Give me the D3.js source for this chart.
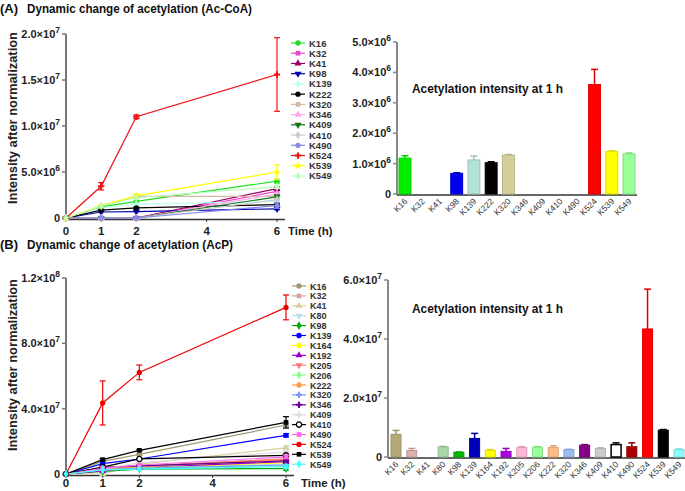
<!DOCTYPE html>
<html><head><meta charset="utf-8">
<script src="https://cdn.jsdelivr.net/npm/d3@7"></script>
<style>
body{margin:0;background:#fff;}
text{font-family:"Liberation Sans",Arial,sans-serif;}
</style></head>
<body><svg id="c" width="685" height="491"></svg>
<script>
// ---------- DATA ----------
const timePoints = [0, 1, 2, 6];
const timeTicks = [0, 1, 2, 4, 6];

// Panel A (Ac-CoA) line series
const namesA = ["K16","K32","K41","K98","K139","K222","K320","K346","K409","K410","K490","K524","K539","K549"];
const colorsA = ["#22dd22","#ee44cc","#990066","#0000aa","#bbffee","#000000","#d2b9a0","#ffaaee","#117711","#cccccc","#8888ee","#ee1111","#ffff00","#bbffbb"];
const symbolsA = ["circle","square","triangle","tdown","diamond","circle","square","triangle","tdown","diamond","circle","cross","star","diamond"];
const valuesA = [
  [0, 1.2e6, 1.8e6, 4.0e6],
  [0, 0, 0, 2.9e6],
  [0, 0, 0, 3.2e6],
  [0, 0.65e6, 0.7e6, 1.0e6],
  [0, 1.1e6, 1.5e6, 1.8e6],
  [0, 0.85e6, 1.1e6, 1.45e6],
  [0, 1.3e6, 2.35e6, 2.35e6],
  [0, 0, 0, 2.6e6],
  [0, 0, 0, 2.3e6],
  [0, 0, 0, 2.0e6],
  [0, 0, 0, 1.35e6],
  [0, 3.45e6, 11.0e6, 15.6e6],
  [0, 1.35e6, 2.4e6, 5.0e6],
  [0, 1.3e6, 2.2e6, 3.4e6]
];
const errorsA = [
  [0,0.1e6,0,0.2e6],[0,0,0,0.2e6],[0,0,0,0.2e6],[0,0,0,0.1e6],[0,0.1e6,0,0.1e6],
  [0,0.1e6,0.1e6,0.1e6],[0,0,0,0],[0,0,0,0.1e6],[0,0,0,0.2e6],[0,0,0,0.1e6],[0,0,0,0.3e6],
  [0,0.4e6,0.2e6,4.0e6],[0,0,0.2e6,0.8e6],[0,0,0,0.2e6]
];

// Panel A bars (1 h)
const barNamesA = namesA;
const barValuesA = [1.18e6, 0, 0, 0.68e6, 1.12e6, 1.03e6, 1.28e6, 0, 0, 0, 0, 3.6e6, 1.4e6, 1.32e6];
const barErrorsA = [0.08e6, 0, 0, 0.02e6, 0.13e6, 0.03e6, 0.02e6, 0, 0, 0, 0, 0.5e6, 0.02e6, 0.03e6];
const barColorsA = ["#00ee00","#ff66cc","#990066","#0000ee","#b2e2d6","#000000","#d4d09c","#ffaaee","#117711","#cccccc","#8888ee","#ff0000","#ffff00","#99ff99"];
const yTicksA = [0, 5e6, 1e7, 1.5e7, 2e7];
const yTicksBarA = [0, 1e6, 2e6, 3e6, 4e6, 5e6];

// Panel B (AcP) line series
const namesB = ["K16","K32","K41","K80","K98","K139","K164","K192","K205","K206","K222","K320","K346","K409","K410","K490","K524","K539","K549"];
const colorsB = ["#a09870","#d8a0a0","#d8d0a0","#bbddee","#00aa00","#0000ff","#ffff00","#9900cc","#ff7777","#88ff88","#ff9944","#7799ff","#660099","#dddddd","#000000","#ff66ee","#ee0000","#000000","#44ffff"];
const symbolsB = ["circle","square","triangle","tdown","diamond","circle","circle","triangle","tdown","diamond","circle","cross","cross","cross","ocircle","square","circle","square","diamond"];
const valuesB = [
  [0, 0.77e7, 1.2e7, 3.0e7],
  [0, 0.22e7, 0.45e7, 0.95e7],
  [0, 0, 0.6e7, 1.6e7],
  [0, 0.34e7, 0.4e7, 0.6e7],
  [0, 0.16e7, 0.3e7, 0.33e7],
  [0, 0.63e7, 0.92e7, 2.37e7],
  [0, 0.23e7, 0.35e7, 0.7e7],
  [0, 0.19e7, 0.4e7, 0.75e7],
  [0, 0.32e7, 0.5e7, 0.9e7],
  [0, 0.33e7, 0.4e7, 0.5e7],
  [0, 0.32e7, 0.45e7, 0.85e7],
  [0, 0.25e7, 0.35e7, 0.55e7],
  [0, 0.4e7, 0.5e7, 0.8e7],
  [0, 0.29e7, 0.7e7, 1.35e7],
  [0, 0.42e7, 0.92e7, 1.14e7],
  [0, 0.35e7, 0.55e7, 1.05e7],
  [0, 4.35e7, 6.22e7, 10.2e7],
  [0, 0.88e7, 1.45e7, 3.16e7],
  [0, 0.25e7, 0.3e7, 0.45e7]
];
const errorsB = [
  [0,0.1e7,0.05e7,0.1e7],[0,0.05e7,0,0.1e7],[0,0,0,0.1e7],[0,0,0,0],[0,0,0,0.1e7],[0,0.1e7,0,0.1e7],
  [0,0,0,0],[0,0.05e7,0,0.1e7],[0,0,0,0],[0,0,0,0],[0,0.05e7,0,0],[0,0,0,0],[0,0,0,0.1e7],
  [0,0,0,0.1e7],[0,0.05e7,0,0.05e7],[0,0.1e7,0,0.1e7],[0,1.35e7,0.45e7,0.76e7],[0,0.05e7,0.05e7,0.35e7],[0,0,0,0.1e7]
];

// Panel B bars (1 h)
const barNamesB = namesB;
const barValuesB = [0.77e7, 0.22e7, 0, 0.34e7, 0.16e7, 0.63e7, 0.23e7, 0.19e7, 0.32e7, 0.33e7, 0.32e7, 0.25e7, 0.4e7, 0.29e7, 0.42e7, 0.35e7, 4.34e7, 0.91e7, 0.25e7];
const barErrorsB = [0.13e7, 0.07e7, 0, 0.02e7, 0.01e7, 0.17e7, 0.02e7, 0.1e7, 0.03e7, 0.02e7, 0.06e7, 0.01e7, 0.02e7, 0.02e7, 0.06e7, 0.13e7, 1.35e7, 0.02e7, 0.02e7];
const barColorsB = ["#b5a97a","#ddb0b0","#d8d0a0","#a8d8a8","#00bb00","#0000bb","#ffff00","#aa00dd","#ffb8d8","#99ff99","#ffbb88","#99bbee","#880088","#cccccc","#ffffff","#aa0000","#ff0000","#000000","#88ffff"];
const yTicksB = [0, 4e7, 8e7, 1.2e8];
const yTicksBarB = [0, 2e7, 4e7, 6e7];

// ---------- DRAW ----------
const svg = d3.select("#c");

function symGen(name, size){
  const m = {circle:d3.symbolCircle, ocircle:d3.symbolCircle, square:d3.symbolSquare, triangle:d3.symbolTriangle,
             tdown:d3.symbolTriangle, diamond:d3.symbolDiamond, cross:d3.symbolCross, star:d3.symbolStar};
  return d3.symbol().type(m[name]).size(size)();
}

function sciLabel(sel, v){
  sel.text(null);
  if (v === 0){ sel.text("0"); return; }
  const e = Math.floor(Math.log10(v) + 1e-9);
  const m = v / Math.pow(10, e);
  sel.append("tspan").text(m.toFixed(1) + "\u00d710");
  sel.append("tspan").attr("dy", -5).attr("font-size", "8.5px").text(e);
}

function yAxis(g, y, ticks, xPos, color){
  g.append("line").attr("x1", xPos).attr("x2", xPos).attr("y1", y(0)+1).attr("y2", y(ticks[ticks.length-1]))
    .attr("stroke", color).attr("stroke-width", 2);
  ticks.forEach(t=>{
    g.append("line").attr("x1", xPos-4).attr("x2", xPos).attr("y1", y(t)).attr("y2", y(t)).attr("stroke", color).attr("stroke-width", 1.5);
    const tx = g.append("text").attr("x", xPos-6).attr("y", y(t)+4).attr("text-anchor","end")
      .attr("font-size","11px").attr("font-weight","bold").attr("fill","#222");
    sciLabel(tx, t);
  });
}

function linePanel(opt){
  const g = svg.append("g");
  const x = d3.scaleLinear().domain([0,6]).range(opt.xr);
  const y = d3.scaleLinear().domain([0,opt.ymax]).range(opt.yr);
  yAxis(g, y, opt.yticks, opt.xr[0], "#777");
  g.append("line").attr("x1", opt.xr[0]).attr("x2", opt.xr[1]+8).attr("y1", y(0)+1.5).attr("y2", y(0)+1.5)
    .attr("stroke", "#333").attr("stroke-width", 1.5);
  timeTicks.forEach(t=>{
    g.append("line").attr("x1", x(t)).attr("x2", x(t)).attr("y1", y(0)+1.5).attr("y2", y(0)+4).attr("stroke","#333");
    g.append("text").attr("x", x(t)).attr("y", opt.xlabY).attr("text-anchor","middle")
      .attr("font-size","11.5px").attr("font-weight","bold").attr("fill","#222").text(t);
  });
  g.append("text").attr("x", opt.timeX).attr("y", opt.xlabY).attr("font-size","11.5px").attr("font-weight","bold")
    .attr("fill","#222").text("Time (h)");
  g.append("text").attr("transform", `translate(17,${opt.ytitleY}) rotate(-90)`).attr("text-anchor","middle")
    .attr("font-family","'Open Sans',sans-serif").attr("font-size","12.5px").attr("font-weight","600").attr("fill","#222")
    .attr("textLength", 172).attr("lengthAdjust","spacingAndGlyphs").text("Intensity after normalization");
  const line = d3.line().x((d,i)=>x(timePoints[i])).y(d=>y(d));
  opt.names.forEach((n,k)=>{
    g.append("path").datum(opt.values[k]).attr("d", line).attr("fill","none").attr("stroke", opt.colors[k]).attr("stroke-width", 1.2);
  });
  opt.names.forEach((n,k)=>{
    const col = opt.colors[k];
    opt.values[k].forEach((v,i)=>{
      const e = opt.errors[k][i];
      const cx = x(timePoints[i]);
      if (e > 0){
        g.append("line").attr("x1",cx).attr("x2",cx).attr("y1",y(v-e)).attr("y2",y(v+e)).attr("stroke",col).attr("stroke-width",1.2);
        [v-e, v+e].forEach(w=> g.append("line").attr("x1",cx-3).attr("x2",cx+3).attr("y1",y(w)).attr("y2",y(w)).attr("stroke",col).attr("stroke-width",1.2));
      }
      drawSym(g, opt.symbols[k], cx, y(v), col, opt.symSize);
    });
  });
  opt.names.forEach((n,k)=>{
    const ly = opt.legY0 + k*opt.legStep;
    const col = opt.colors[k];
    g.append("line").attr("x1", opt.legX-7).attr("x2", opt.legX+7).attr("y1", ly).attr("y2", ly).attr("stroke", col).attr("stroke-width",1.2);
    drawSym(g, opt.symbols[k], opt.legX, ly, col, opt.symSize);
    g.append("text").attr("x", opt.legX+11).attr("y", ly+3.5).attr("font-size", opt.legFont).attr("font-weight","bold")
      .attr("fill","#333").text(n);
  });
}
function drawSym(g, s, cx, cy, col, size){
  const p = g.append("path").attr("d", symGen(s, size))
    .attr("transform", `translate(${cx},${cy})` + (s==="tdown" ? " rotate(180)" : ""));
  if (s === "ocircle") p.attr("fill","#fff").attr("stroke",col).attr("stroke-width",1.3);
  else p.attr("fill", col);
}

function barPanel(opt){
  const g = svg.append("g");
  const x = d3.scaleBand().domain(opt.names).range(opt.xr).paddingInner(opt.pin).paddingOuter(opt.pout);
  const y = d3.scaleLinear().domain([0, opt.ymax]).range(opt.yr);
  yAxis(g, y, opt.yticks, opt.xr[0], "#888");
  g.append("line").attr("x1", opt.xr[0]).attr("x2", opt.xr[1]).attr("y1", y(0)+1).attr("y2", y(0)+1).attr("stroke","#333").attr("stroke-width",1.5);
  opt.names.forEach((n,i)=>{
    const v = opt.values[i], e = opt.errors[i], col = opt.colors[i];
    const cx = x(n) + x.bandwidth()/2;
    const stroke = col === "#ffffff" ? "#000" : d3.color(col).darker(0.4);
    if (v > 0){
      if (e > 0){
        g.append("line").attr("x1",cx).attr("x2",cx).attr("y1",y(v)).attr("y2",y(v+e)).attr("stroke",stroke).attr("stroke-width",1.5);
        g.append("line").attr("x1",cx-3.5).attr("x2",cx+3.5).attr("y1",y(v+e)).attr("y2",y(v+e)).attr("stroke",stroke).attr("stroke-width",1.5);
      }
      g.append("rect").attr("x", x(n)+0.5).attr("width", x.bandwidth()-1).attr("y", y(v)).attr("height", y(0)-y(v))
        .attr("fill", col).attr("stroke", stroke).attr("stroke-width", col==="#ffffff"?1.5:1);
    }
    g.append("text").attr("transform", `translate(${cx+3},${y(0)+8}) rotate(-45)`).attr("text-anchor","end")
      .attr("font-size","8.5px").attr("fill","#333").text(n);
  });
  g.append("text").attr("x", 412).attr("y", opt.titleY).attr("font-family","'Open Sans',sans-serif")
    .attr("font-size","12.5px").attr("font-weight","bold").attr("fill","#111")
    .attr("textLength", 151).attr("lengthAdjust","spacingAndGlyphs").text("Acetylation intensity at 1 h");
}

// Titles
function panelTitle(letter, txt, y, len){
  svg.append("text").attr("x", 0).attr("y", y).attr("font-family","'Open Sans',sans-serif").attr("font-weight","bold")
    .attr("font-size","13px").attr("fill","#111").text(letter);
  svg.append("text").attr("x", 27).attr("y", y).attr("font-family","'Open Sans',sans-serif").attr("font-weight","bold")
    .attr("font-size","12.5px").attr("fill","#111").attr("textLength", len).attr("lengthAdjust","spacingAndGlyphs").text(txt);
}
panelTitle("(A)", "Dynamic change of acetylation (Ac-CoA)", 13, 225);
panelTitle("(B)", "Dynamic change of acetylation (AcP)", 249, 206);

linePanel({names:namesA, colors:colorsA, symbols:symbolsA, values:valuesA, errors:errorsA,
  xr:[66,277], yr:[218,34], ymax:2e7, yticks:yTicksA, xlabY:235, timeX:288, ytitleY:118,
  legX:298, legY0:43, legStep:10.23, legFont:"9.5px", symSize:22});
barPanel({names:barNamesA, values:barValuesA, errors:barErrorsA, colors:barColorsA,
  xr:[397,637], pin:0.25, pout:0.09, yr:[194,42], ymax:5e6, yticks:yTicksBarA, titleY:93});

linePanel({names:namesB, colors:colorsB, symbols:symbolsB, values:valuesB, errors:errorsB,
  xr:[66,286], yr:[474,278], ymax:1.2e8, yticks:yTicksB, xlabY:487, timeX:301, ytitleY:365,
  legX:299, legY0:286, legStep:9.9, legFont:"9px", symSize:22});
barPanel({names:barNamesB, values:barValuesB, errors:barErrorsB, colors:barColorsB,
  xr:[388,687], pin:0.3, pout:0.16, yr:[457,280], ymax:6e7, yticks:yTicksBarB, titleY:313});
</script></body></html>
